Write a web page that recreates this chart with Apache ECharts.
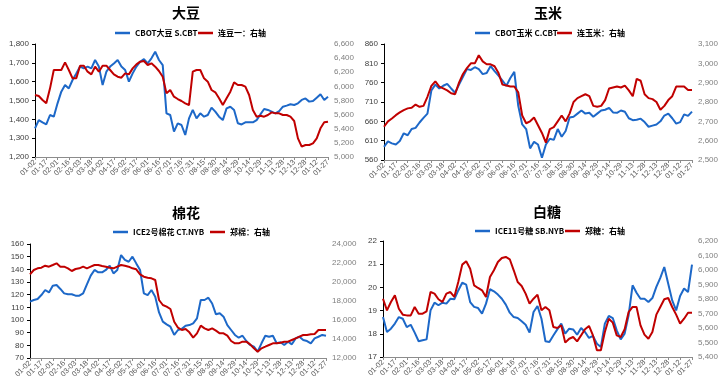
<!DOCTYPE html>
<html><head><meta charset="utf-8">
<script src="https://cdn.jsdelivr.net/npm/echarts@6/dist/echarts.min.js"></script>
<style>html,body{margin:0;padding:0;background:#fff}#c{width:723px;height:383px}</style>
</head><body><div id="c"></div>
<script>
const dates = ['2022-01-02','2022-01-07','2022-01-12','2022-01-17','2022-01-22','2022-01-27','2022-02-01','2022-02-06','2022-02-11','2022-02-16','2022-02-21','2022-02-26','2022-03-03','2022-03-08','2022-03-13','2022-03-18','2022-03-23','2022-03-28','2022-04-02','2022-04-07','2022-04-12','2022-04-17','2022-04-22','2022-04-27','2022-05-02','2022-05-07','2022-05-12','2022-05-17','2022-05-22','2022-05-27','2022-06-01','2022-06-06','2022-06-11','2022-06-16','2022-06-21','2022-06-26','2022-07-01','2022-07-06','2022-07-11','2022-07-16','2022-07-21','2022-07-26','2022-07-31','2022-08-05','2022-08-10','2022-08-15','2022-08-20','2022-08-25','2022-08-30','2022-09-04','2022-09-09','2022-09-14','2022-09-19','2022-09-24','2022-09-29','2022-10-04','2022-10-09','2022-10-14','2022-10-19','2022-10-24','2022-10-29','2022-11-03','2022-11-08','2022-11-13','2022-11-18','2022-11-23','2022-11-28','2022-12-03','2022-12-08','2022-12-13','2022-12-18','2022-12-23','2022-12-28','2023-01-02','2023-01-07','2023-01-12','2023-01-17','2023-01-22','2023-01-27'];

const titles = ['大豆','玉米','棉花','白糖'];
const blueNames = ['CBOT大豆 S.CBT','CBOT玉米 C.CBT','ICE2号棉花 CT.NYB','ICE11号糖 SB.NYB'];
const redNames = ['连豆一：右轴','连玉米：右轴','郑棉：右轴','郑糖：右轴'];

const soyCBOT = [1352,1396,1384,1373,1423,1414,1485,1547,1582,1564,1609,1644,1680,1671,1680,1671,1715,1680,1582,1653,1680,1697,1715,1680,1662,1600,1644,1680,1706,1720,1697,1724,1759,1715,1688,1432,1423,1335,1379,1370,1317,1405,1450,1405,1432,1414,1423,1462,1441,1414,1396,1458,1467,1450,1379,1373,1384,1384,1384,1396,1426,1455,1450,1441,1432,1444,1467,1473,1480,1476,1485,1503,1511,1494,1497,1515,1533,1503,1520];
const soyDCE = [5878,5864,5807,5760,5972,6232,6232,6232,6340,6232,6114,6114,6293,6293,6208,6170,6279,6208,6293,6293,6232,6170,6137,6123,6184,6170,6255,6312,6350,6359,6303,6326,6279,6218,6137,5901,5949,5854,5821,5793,5760,5736,6208,6232,6232,6114,6067,5949,5916,5831,5736,5831,5925,6057,6019,6019,5996,5878,5665,5571,5585,5571,5595,5632,5618,5618,5595,5595,5571,5510,5264,5146,5170,5170,5193,5264,5406,5491,5500];

const cornCBOT = [594,608,603,600,609,629,624,640,643,657,669,680,740,755,745,752,757,745,734,755,775,795,793,800,795,782,785,803,790,778,765,752,772,788,700,652,640,590,607,600,566,600,615,612,640,620,635,670,672,680,688,680,682,672,680,688,690,695,683,682,688,685,668,663,664,667,658,646,649,652,660,675,680,668,654,658,678,674,685];
const cornDCE = [2672,2700,2715,2732,2746,2758,2767,2770,2787,2775,2780,2827,2883,2907,2880,2870,2860,2845,2840,2900,2945,2975,3000,3000,3042,3010,2995,2995,2985,2950,2890,2885,2880,2880,2850,2730,2690,2700,2720,2680,2640,2590,2660,2670,2700,2730,2700,2740,2800,2820,2830,2840,2830,2780,2775,2780,2810,2870,2875,2880,2875,2885,2860,2830,2920,2910,2840,2820,2815,2800,2760,2780,2810,2830,2880,2880,2880,2862,2862];

const cottonICE = [114.5,115.8,116.6,119.7,123.7,121.8,127.1,127.6,124.5,121,120.3,120.3,119.2,119.2,121,128.2,135,139.5,137.6,137.6,139.5,142.9,136.8,139.5,151.3,147.4,146,150,144.7,139.5,121,119.7,123.7,118.4,106,98.7,96.6,94.7,88.2,92.1,93,95.5,96,97.4,101.3,115.8,115.8,117.6,113,104.5,105.3,102.6,96,92.1,88.2,86,87.6,83.4,80.3,79,75,81.6,87.6,86.8,87.6,81.6,82.4,80.3,82.9,80.8,85.5,86.8,84.2,83.4,81.6,85.5,86.8,88.2,87.6];
const cottonZCE = [20807,21263,21438,21509,21719,21614,21789,21965,21614,21614,21438,21158,21368,21438,21614,21438,21614,21789,21789,21684,21614,21509,21438,21614,21789,21719,21614,21438,21333,20807,20561,20456,20386,20210,18105,17578,17403,17157,15824,15192,14947,15052,14701,14140,14596,15403,15122,14947,15122,14877,14596,14596,14350,13789,13543,13543,13719,13719,13438,13017,12666,13017,13192,13368,13543,13543,13614,13719,13719,13894,14070,14245,14421,14421,14491,14526,14947,14947,14947];

const sugarICE = [18.72,18.08,18.22,18.44,18.72,18.65,18.29,18.39,18.05,17.68,17.72,17.76,19.01,19.34,19.23,19.34,19.3,19.51,19.49,19.87,20.2,20.12,19.37,19.16,19.11,18.87,19.3,19.92,19.83,19.69,19.51,19.26,18.91,18.72,18.68,18.54,18.39,18.05,18.94,19.2,18.65,17.68,17.65,17.93,18.19,18.44,18.01,18.22,18.19,17.96,18.25,18.08,17.82,17.91,17.57,17.43,18.44,18.77,18.68,18.15,17.76,18.01,18.8,20.09,19.77,19.51,19.51,19.37,19.54,20.02,20.41,20.88,20.16,19.44,19.01,19.63,19.95,19.8,20.98];
const sugarZCE = [5802,5722,5779,5825,5733,5692,5687,5687,5745,5699,5699,5715,5848,5837,5798,5779,5837,5848,5814,5917,6037,6060,6009,5894,5876,5860,5814,5952,5998,6055,6083,6090,6074,5998,5917,5890,5837,5768,5802,5830,5722,5745,5722,5607,5600,5618,5499,5526,5538,5508,5549,5591,5614,5549,5446,5446,5572,5664,5637,5549,5538,5591,5710,5745,5745,5618,5554,5526,5572,5692,5745,5798,5807,5745,5692,5630,5664,5705,5705];

const blueData = [soyCBOT, cornCBOT, cottonICE, sugarICE];
const redData = [soyDCE, cornDCE, cottonZCE, sugarZCE];
const leftRange = [[1200,1800,100],[560,860,50],[70,160,10],[17,22,1]];
const rightRange = [[5000,6600,200],[2500,3100,100],[12000,24000,2000],[5400,6200,100]];

const grids = [
  {left:35, top:44, width:293, height:113},
  {left:384, top:44, width:308, height:116},
  {left:30, top:244, width:296, height:114},
  {left:383, top:241, width:309, height:116}
];
const titlePos = [[181,1],[543,1],[181,201],[542,200]];
const legendPos = [[110,193,24],[470,552,24],[108,205,223],[470,560,222]];

const BLUE = '#1D68C8', RED = '#C00000';
const fmt = v => Number(v).toLocaleString('en-US');

const option = {animation:false, title:[], legend:[], grid:[], xAxis:[], yAxis:[], series:[]};
for (let k=0;k<4;k++){
  option.title.push({text:titles[k], left:titlePos[k][0], top:titlePos[k][1], textAlign:'center',
    textStyle:{fontSize:14, fontWeight:'bold', color:'#000', fontFamily:'Noto Sans CJK SC'}});
  option.legend.push({data:[blueNames[k]], left:legendPos[k][0], top:legendPos[k][2], icon:'rect', itemWidth:15, itemHeight:2.5, itemGap:4,
    textStyle:{fontSize:8, fontWeight:'bold', color:'#000', fontFamily:'Noto Sans CJK SC'}});
  option.legend.push({data:[redNames[k]], left:legendPos[k][1], top:legendPos[k][2], icon:'rect', itemWidth:15, itemHeight:2.5, itemGap:4,
    textStyle:{fontSize:8, fontWeight:'bold', color:'#000', fontFamily:'Noto Sans CJK SC'}});
  option.grid.push(grids[k]);
  option.xAxis.push({type:'category', gridIndex:k, data:dates, boundaryGap:false,
    axisLine:{lineStyle:{color:'#8C8C8C'}},
    axisTick:{interval:2, length:3, lineStyle:{color:'#8C8C8C'}},
    axisLabel:{interval:2, rotate:45, fontSize:7.5, color:'#595959', margin:4, formatter:v=>v.slice(5)}});
  const L = leftRange[k], R = rightRange[k];
  option.yAxis.push({type:'value', gridIndex:k, min:L[0], max:L[1], interval:L[2], position:'left',
    splitLine:{show:false}, axisLine:{show:true, lineStyle:{color:'#000'}}, axisTick:{show:true, length:3, lineStyle:{color:'#000'}},
    axisLabel:{fontSize:8, color:'#404040', margin:6, formatter:fmt}});
  option.yAxis.push({type:'value', gridIndex:k, min:R[0], max:R[1], interval:R[2], position:'right',
    splitLine:{show:false}, axisLine:{show:false}, axisTick:{show:false},
    axisLabel:{fontSize:8, color:'#7F7F7F', margin:6, formatter:fmt}});
  option.series.push({name:blueNames[k], type:'line', xAxisIndex:k, yAxisIndex:2*k, data:blueData[k],
    symbol:'none', color:BLUE, lineStyle:{width:2, color:BLUE}});
  option.series.push({name:redNames[k], type:'line', xAxisIndex:k, yAxisIndex:2*k+1, data:redData[k],
    symbol:'none', color:RED, lineStyle:{width:2, color:RED}});
}
echarts.init(document.getElementById('c')).setOption(option);
</script></body></html>
